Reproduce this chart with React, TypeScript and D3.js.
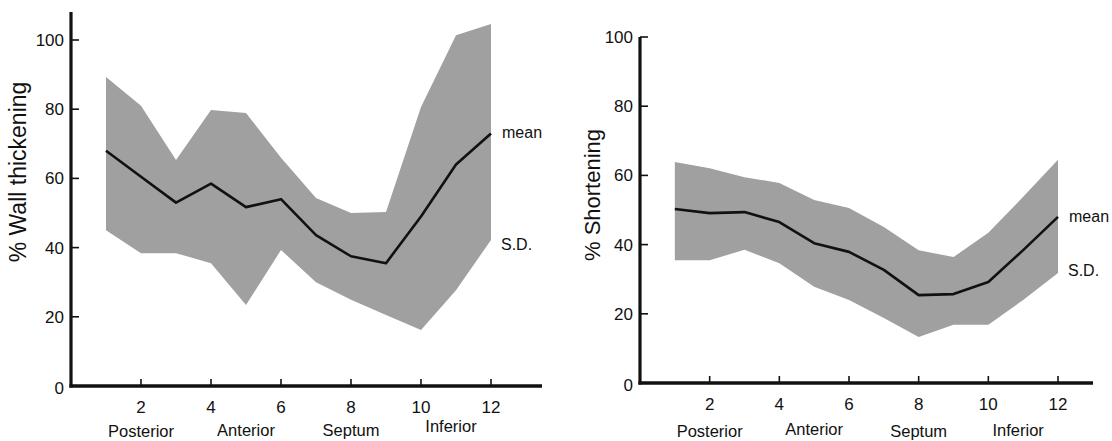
import React, { useEffect, useRef } from 'react';
import * as d3 from 'd3';

// segment numbers 1..12
const segments = [1, 2, 3, 4, 5, 6, 7, 8, 9, 10, 11, 12];

// left panel: % wall thickening
const thickMean = [68, 60.5, 53, 58.5, 51.7, 54, 43.6, 37.5, 35.5, 49, 64, 73];
const thickUpper = [89.3, 81, 65.3, 79.8, 78.9, 66, 54.3, 50, 50.3, 80.6, 101.4, 104.6];
const thickLower = [45, 38.4, 38.4, 35.5, 23.4, 39.3, 30, 24.9, 20.5, 16.2, 27.7, 42.2];

// right panel: % shortening
const shortMean = [50.3, 49.1, 49.4, 46.5, 40.4, 37.9, 32.7, 25.4, 25.7, 29.2, 38.4, 48];
const shortUpper = [63.9, 62.1, 59.5, 57.8, 52.9, 50.6, 45.1, 38.4, 36.4, 43.4, 53.8, 64.5];
const shortLower = [35.5, 35.5, 38.5, 34.6, 27.8, 24, 18.8, 13.3, 16.8, 16.8, 24, 31.8];

const yTicks = [0, 20, 40, 60, 80, 100];
const xTicks = [2, 4, 6, 8, 10, 12];
const regions = ['Posterior', 'Anterior', 'Septum', 'Inferior'];
const regionPos = [2, 5, 8, 11];

const Chart = () => {
  const ref = useRef<SVGSVGElement | null>(null);

  useEffect(() => {
    if (!ref.current) return;
    const svg = d3.select(ref.current);
    svg.selectAll('*').remove();
    const font = "'Liberation Sans', Arial, sans-serif";

    const panels = [
      {
        mean: thickMean, upper: thickUpper, lower: thickLower,
        label: '% Wall thickening', labelSize: 23,
        x0: 71, x12: 491, xEnd: 542, y0: 386, y100: 40, yTop: 12,
        labelX: 26, labelY: 172, regionY: [437, 436, 436, 432], sdDy: 117,
      },
      {
        mean: shortMean, upper: shortUpper, lower: shortLower,
        label: '% Shortening', labelSize: 22,
        x0: 640, x12: 1058, xEnd: 1093, y0: 383, y100: 37, yTop: 37,
        labelX: 600, labelY: 195, regionY: [437, 435, 437, 436], sdDy: 59,
      },
    ];

    panels.forEach(p => {
      const x = d3.scaleLinear().domain([0, 12]).range([p.x0, p.x12]);
      const y = d3.scaleLinear().domain([0, 100]).range([p.y0, p.y100]);
      const g = svg.append('g');

      // S.D. band
      const area = d3.area<number>()
        .x((_, i) => x(segments[i]))
        .y0((_, i) => y(p.lower[i]))
        .y1((_, i) => y(p.upper[i]));
      g.append('path')
        .attr('d', area(segments))
        .attr('fill', '#a0a0a0');

      // mean line
      const line = d3.line<number>()
        .x((_, i) => x(segments[i]))
        .y((_, i) => y(p.mean[i]));
      g.append('path')
        .attr('d', line(segments))
        .attr('fill', 'none')
        .attr('stroke', '#111')
        .attr('stroke-width', 2.6)
        .attr('stroke-linejoin', 'round');

      // axes
      g.append('line')
        .attr('x1', p.x0).attr('x2', p.x0)
        .attr('y1', p.yTop).attr('y2', p.y0 + 1.5)
        .attr('stroke', '#111').attr('stroke-width', 3.2);
      g.append('line')
        .attr('x1', p.x0 - 1.6).attr('x2', p.xEnd)
        .attr('y1', p.y0).attr('y2', p.y0)
        .attr('stroke', '#111').attr('stroke-width', 3.6);

      // y ticks
      yTicks.forEach(t => {
        if (t > 0) {
          g.append('line')
            .attr('x1', p.x0).attr('x2', p.x0 + 8)
            .attr('y1', y(t)).attr('y2', y(t))
            .attr('stroke', '#111').attr('stroke-width', 1.6);
        }
        g.append('text')
          .attr('x', p.x0 - 7)
          .attr('y', y(t) + (t === 0 ? 8 : 6))
          .attr('text-anchor', 'end')
          .attr('font-family', font)
          .attr('font-size', 17)
          .attr('fill', '#111')
          .text(t);
      });

      // x ticks
      xTicks.forEach(t => {
        g.append('line')
          .attr('x1', x(t)).attr('x2', x(t))
          .attr('y1', p.y0).attr('y2', p.y0 - 7)
          .attr('stroke', '#111').attr('stroke-width', 1.6);
        g.append('text')
          .attr('x', x(t))
          .attr('y', p.y0 + 27)
          .attr('text-anchor', 'middle')
          .attr('font-family', font)
          .attr('font-size', 17)
          .attr('fill', '#111')
          .text(t);
      });

      // region names
      regions.forEach((r, i) => {
        g.append('text')
          .attr('x', x(regionPos[i]) + (i === 3 ? -5 : 0))
          .attr('y', p.regionY[i])
          .attr('text-anchor', 'middle')
          .attr('font-family', font)
          .attr('font-size', 16.5)
          .attr('fill', '#111')
          .text(r);
      });

      // y axis title
      g.append('text')
        .attr('transform', `translate(${p.labelX},${p.labelY}) rotate(-90)`)
        .attr('text-anchor', 'middle')
        .attr('font-family', font)
        .attr('font-size', p.labelSize)
        .attr('fill', '#111')
        .text(p.label);

      // series labels
      const last = segments.length - 1;
      g.append('text')
        .attr('x', x(12) + 11)
        .attr('y', y(p.mean[last]) + 5)
        .attr('font-family', font)
        .attr('font-size', 16)
        .attr('fill', '#111')
        .text('mean');
      g.append('text')
        .attr('x', x(12) + 10)
        .attr('y', y(p.mean[last]) + p.sdDy)
        .attr('font-family', font)
        .attr('font-size', 16)
        .attr('fill', '#111')
        .text('S.D.');
    });
  }, []);

  return (
    <svg
      ref={ref}
      width={1112}
      height={441}
      style={{ position: 'absolute', left: 0, top: 0, background: '#fff' }}
    />
  );
};

export default function App() {
  return <Chart />;
}
